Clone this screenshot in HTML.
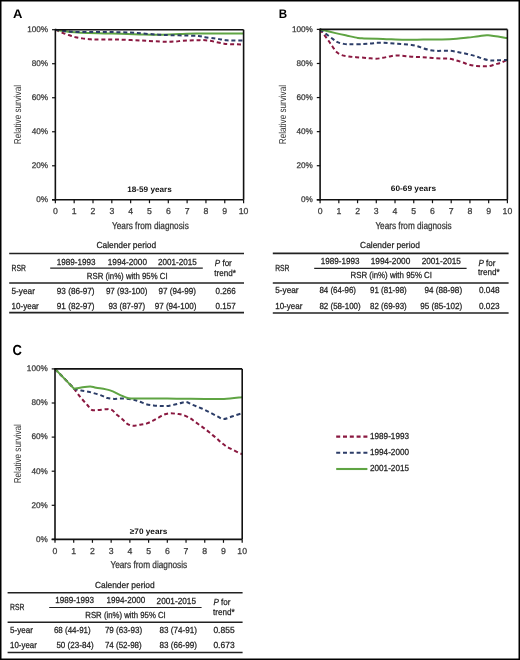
<!DOCTYPE html>
<html><head><meta charset="utf-8"><style>
html,body{margin:0;padding:0;background:#fff;}
body{width:520px;height:660px;overflow:hidden;}
#fig{position:relative;width:520px;height:660px;box-sizing:border-box;}
svg{position:absolute;left:0;top:0;}
text{text-rendering:geometricPrecision;}
text{font-family:"Liberation Sans", sans-serif;}
</style></head><body><div id="fig">
<svg width="520" height="660" viewBox="0 0 520 660" style="position:absolute;left:0;top:0;will-change:transform">
<path d="M55.35,29.70 C56.45,30.18 59.59,31.66 61.94,32.59 C64.29,33.53 67.18,34.55 69.47,35.31 C71.76,36.08 73.55,36.67 75.68,37.18 C77.81,37.69 79.98,38.03 82.27,38.38 C84.56,38.72 87.04,39.03 89.42,39.23 C91.81,39.42 91.90,39.51 96.58,39.57 C101.25,39.62 109.91,39.40 117.47,39.57 C125.03,39.74 134.04,40.22 141.94,40.59 C149.85,40.95 159.26,41.64 164.91,41.78 C170.56,41.92 172.82,41.61 175.83,41.44 C178.84,41.27 179.47,40.95 182.98,40.76 C186.50,40.56 193.59,40.36 196.91,40.25 C200.24,40.13 200.80,39.99 202.94,40.08 C205.07,40.16 207.36,40.39 209.71,40.76 C212.07,41.13 214.67,41.81 217.06,42.29 C219.44,42.77 221.86,43.34 224.02,43.65 C226.19,43.96 226.78,44.02 230.05,44.16 C233.31,44.30 241.34,44.44 243.60,44.50" fill="none" stroke="#8a1840" stroke-width="2" stroke-dasharray="4 2.8"/>
<path d="M55.35,29.70 C57.86,30.07 63.19,31.32 70.41,31.91 C77.63,32.51 90.18,32.96 98.65,33.27 C107.12,33.58 114.34,33.58 121.24,33.78 C128.14,33.98 133.79,34.29 140.06,34.46 C146.34,34.63 152.30,34.86 158.89,34.80 C165.48,34.75 173.32,34.35 179.59,34.12 C185.87,33.90 190.58,33.53 196.54,33.44 C202.50,33.36 207.52,33.58 215.36,33.61 C223.21,33.64 238.89,33.61 243.60,33.61" fill="none" stroke="#5fa443" stroke-width="2"/>
<path d="M55.35,29.70 C56.92,29.93 61.62,30.69 64.76,31.06 C67.90,31.43 69.47,31.74 74.17,31.91 C78.88,32.08 86.72,32.05 93.00,32.08 C99.28,32.11 105.55,32.00 111.82,32.08 C118.10,32.17 125.00,32.31 130.65,32.59 C136.30,32.88 141.00,33.44 145.71,33.78 C150.42,34.12 154.81,34.41 158.89,34.63 C162.97,34.86 165.79,35.00 170.18,35.14 C174.58,35.28 180.54,35.34 185.24,35.48 C189.95,35.63 195.13,35.71 198.42,35.99 C201.71,36.28 202.19,36.76 205.01,37.18 C207.83,37.61 212.70,38.18 215.36,38.55 C218.03,38.91 219.13,39.11 221.01,39.40 C222.89,39.68 224.46,40.05 226.66,40.25 C228.85,40.44 231.36,40.53 234.19,40.59 C237.01,40.64 242.03,40.59 243.60,40.59" fill="none" stroke="#2c3d68" stroke-width="2" stroke-dasharray="4 2.8"/>
<line x1="55.35" y1="29.70" x2="243.60" y2="29.70" stroke="#111" stroke-width="1.6"/>
<line x1="243.60" y1="29.70" x2="243.60" y2="199.80" stroke="#111" stroke-width="1.6"/>
<line x1="55.35" y1="28.90" x2="55.35" y2="200.60" stroke="#111" stroke-width="1.6"/>
<line x1="52.05" y1="199.80" x2="243.60" y2="199.80" stroke="#111" stroke-width="1.6"/>
<line x1="52.05" y1="199.80" x2="55.35" y2="199.80" stroke="#111" stroke-width="1.2"/>
<text x="48.15" y="202.10" font-size="8.2" text-anchor="end" fill="#3a3a3a" stroke="#3a3a3a" stroke-width="0.25">0%</text>
<line x1="52.05" y1="165.78" x2="55.35" y2="165.78" stroke="#111" stroke-width="1.2"/>
<text x="48.15" y="168.08" font-size="8.2" text-anchor="end" fill="#3a3a3a" stroke="#3a3a3a" stroke-width="0.25">20%</text>
<line x1="52.05" y1="131.76" x2="55.35" y2="131.76" stroke="#111" stroke-width="1.2"/>
<text x="48.15" y="134.06" font-size="8.2" text-anchor="end" fill="#3a3a3a" stroke="#3a3a3a" stroke-width="0.25">40%</text>
<line x1="52.05" y1="97.74" x2="55.35" y2="97.74" stroke="#111" stroke-width="1.2"/>
<text x="48.15" y="100.04" font-size="8.2" text-anchor="end" fill="#3a3a3a" stroke="#3a3a3a" stroke-width="0.25">60%</text>
<line x1="52.05" y1="63.72" x2="55.35" y2="63.72" stroke="#111" stroke-width="1.2"/>
<text x="48.15" y="66.02" font-size="8.2" text-anchor="end" fill="#3a3a3a" stroke="#3a3a3a" stroke-width="0.25">80%</text>
<line x1="52.05" y1="29.70" x2="55.35" y2="29.70" stroke="#111" stroke-width="1.2"/>
<text x="48.15" y="32.00" font-size="8.2" text-anchor="end" fill="#3a3a3a" stroke="#3a3a3a" stroke-width="0.25">100%</text>
<line x1="55.35" y1="199.80" x2="55.35" y2="203.20" stroke="#111" stroke-width="1.2"/>
<text x="55.35" y="214.20" font-size="8.7" text-anchor="middle" fill="#3a3a3a" stroke="#3a3a3a" stroke-width="0.25">0</text>
<line x1="74.17" y1="199.80" x2="74.17" y2="203.20" stroke="#111" stroke-width="1.2"/>
<text x="74.17" y="214.20" font-size="8.7" text-anchor="middle" fill="#3a3a3a" stroke="#3a3a3a" stroke-width="0.25">1</text>
<line x1="93.00" y1="199.80" x2="93.00" y2="203.20" stroke="#111" stroke-width="1.2"/>
<text x="93.00" y="214.20" font-size="8.7" text-anchor="middle" fill="#3a3a3a" stroke="#3a3a3a" stroke-width="0.25">2</text>
<line x1="111.82" y1="199.80" x2="111.82" y2="203.20" stroke="#111" stroke-width="1.2"/>
<text x="111.82" y="214.20" font-size="8.7" text-anchor="middle" fill="#3a3a3a" stroke="#3a3a3a" stroke-width="0.25">3</text>
<line x1="130.65" y1="199.80" x2="130.65" y2="203.20" stroke="#111" stroke-width="1.2"/>
<text x="130.65" y="214.20" font-size="8.7" text-anchor="middle" fill="#3a3a3a" stroke="#3a3a3a" stroke-width="0.25">4</text>
<line x1="149.47" y1="199.80" x2="149.47" y2="203.20" stroke="#111" stroke-width="1.2"/>
<text x="149.47" y="214.20" font-size="8.7" text-anchor="middle" fill="#3a3a3a" stroke="#3a3a3a" stroke-width="0.25">5</text>
<line x1="168.30" y1="199.80" x2="168.30" y2="203.20" stroke="#111" stroke-width="1.2"/>
<text x="168.30" y="214.20" font-size="8.7" text-anchor="middle" fill="#3a3a3a" stroke="#3a3a3a" stroke-width="0.25">6</text>
<line x1="187.12" y1="199.80" x2="187.12" y2="203.20" stroke="#111" stroke-width="1.2"/>
<text x="187.12" y="214.20" font-size="8.7" text-anchor="middle" fill="#3a3a3a" stroke="#3a3a3a" stroke-width="0.25">7</text>
<line x1="205.95" y1="199.80" x2="205.95" y2="203.20" stroke="#111" stroke-width="1.2"/>
<text x="205.95" y="214.20" font-size="8.7" text-anchor="middle" fill="#3a3a3a" stroke="#3a3a3a" stroke-width="0.25">8</text>
<line x1="224.77" y1="199.80" x2="224.77" y2="203.20" stroke="#111" stroke-width="1.2"/>
<text x="224.77" y="214.20" font-size="8.7" text-anchor="middle" fill="#3a3a3a" stroke="#3a3a3a" stroke-width="0.25">9</text>
<line x1="243.60" y1="199.80" x2="243.60" y2="203.20" stroke="#111" stroke-width="1.2"/>
<text x="243.60" y="214.20" font-size="8.7" text-anchor="middle" fill="#3a3a3a" stroke="#3a3a3a" stroke-width="0.25">10</text>
<text x="13.00" y="18.00" font-size="12.5" text-anchor="start" font-weight="bold" textLength="9.40" lengthAdjust="spacingAndGlyphs" fill="#000">A</text>
<text x="127.20" y="191.60" font-size="8" text-anchor="start" font-weight="bold" textLength="44.60" lengthAdjust="spacingAndGlyphs" fill="#111">18-59 years</text>
<text x="112.00" y="228.50" font-size="10" text-anchor="start" textLength="76.80" lengthAdjust="spacingAndGlyphs" fill="#333" stroke="#333" stroke-width="0.25">Years from diagnosis</text>
<text transform="translate(21.20,144.20) rotate(-90)" x="0" y="0" font-size="10" textLength="59.20" lengthAdjust="spacingAndGlyphs" fill="#333">Relative survival</text>
<path d="M320.10,29.40 C320.85,30.39 323.10,33.35 324.60,35.36 C326.09,37.38 327.75,39.60 329.09,41.50 C330.43,43.40 331.40,45.02 332.65,46.78 C333.90,48.54 335.05,50.67 336.58,52.06 C338.11,53.45 339.77,54.39 341.83,55.13 C343.89,55.87 346.57,56.15 348.94,56.49 C351.32,56.83 353.56,56.98 356.06,57.18 C358.56,57.37 361.81,57.52 363.93,57.69 C366.05,57.86 366.80,58.03 368.80,58.20 C370.80,58.37 373.61,58.77 375.92,58.71 C378.23,58.65 380.44,58.23 382.66,57.86 C384.87,57.49 387.03,56.89 389.21,56.49 C391.40,56.10 393.55,55.58 395.77,55.47 C397.99,55.36 400.26,55.64 402.51,55.81 C404.76,55.98 407.01,56.29 409.25,56.49 C411.50,56.69 413.78,56.89 416.00,57.00 C418.21,57.12 420.34,57.06 422.55,57.18 C424.77,57.29 427.02,57.52 429.30,57.69 C431.57,57.86 433.95,58.06 436.23,58.20 C438.50,58.34 440.75,58.45 442.97,58.54 C445.19,58.62 447.31,58.40 449.52,58.71 C451.74,59.02 454.11,59.82 456.27,60.41 C458.42,61.01 460.39,61.61 462.45,62.29 C464.51,62.97 466.51,63.91 468.63,64.50 C470.75,65.10 473.00,65.58 475.18,65.87 C477.37,66.15 479.52,66.15 481.74,66.21 C483.96,66.26 486.24,66.52 488.48,66.21 C490.73,65.89 493.13,64.93 495.23,64.33 C497.32,63.74 499.00,63.39 501.03,62.63 C503.06,61.86 506.34,60.21 507.40,59.73" fill="none" stroke="#8a1840" stroke-width="2" stroke-dasharray="4 2.8"/>
<path d="M320.10,29.40 C321.07,30.14 323.75,32.21 325.91,33.83 C328.06,35.45 331.09,37.72 333.02,39.11 C334.96,40.50 335.74,41.38 337.52,42.18 C339.30,42.98 341.51,43.54 343.70,43.88 C345.88,44.22 347.32,44.20 350.63,44.22 C353.94,44.25 360.21,44.17 363.55,44.05 C366.89,43.94 368.39,43.74 370.67,43.54 C372.95,43.34 375.04,42.98 377.23,42.86 C379.41,42.75 381.57,42.80 383.78,42.86 C386.00,42.92 388.21,43.06 390.52,43.20 C392.83,43.34 395.36,43.54 397.64,43.71 C399.92,43.88 401.89,44.03 404.20,44.22 C406.51,44.42 409.25,44.57 411.50,44.91 C413.75,45.25 415.62,45.67 417.68,46.27 C419.74,46.87 421.74,47.83 423.86,48.48 C425.99,49.14 428.20,49.79 430.42,50.19 C432.64,50.59 434.95,50.79 437.16,50.87 C439.38,50.96 441.44,50.70 443.72,50.70 C446.00,50.70 448.53,50.64 450.84,50.87 C453.15,51.10 455.42,51.67 457.58,52.06 C459.73,52.46 461.64,52.80 463.76,53.26 C465.88,53.71 468.19,54.25 470.31,54.79 C472.44,55.33 474.34,55.81 476.50,56.49 C478.65,57.18 481.02,58.23 483.24,58.88 C485.45,59.53 487.55,60.19 489.79,60.41 C492.04,60.64 493.79,60.30 496.72,60.24 C499.66,60.19 505.62,60.10 507.40,60.07" fill="none" stroke="#2c3d68" stroke-width="2" stroke-dasharray="4 2.8"/>
<path d="M320.10,29.40 C322.69,30.02 331.12,32.10 335.65,33.15 C340.17,34.20 343.57,34.91 347.26,35.70 C350.94,36.50 354.97,37.47 357.75,37.92 C360.53,38.37 359.71,38.26 363.93,38.43 C368.14,38.60 376.29,38.72 383.03,38.94 C389.78,39.17 397.70,39.68 404.38,39.79 C411.07,39.91 416.87,39.68 423.12,39.62 C429.36,39.57 436.26,39.60 441.85,39.45 C447.43,39.31 452.27,39.08 456.64,38.77 C461.01,38.46 464.38,38.01 468.07,37.58 C471.75,37.15 475.40,36.61 478.74,36.22 C482.08,35.82 483.33,34.88 488.11,35.19 C492.88,35.51 504.18,37.61 507.40,38.09" fill="none" stroke="#5fa443" stroke-width="2"/>
<line x1="320.10" y1="29.40" x2="507.40" y2="29.40" stroke="#111" stroke-width="1.6"/>
<line x1="507.40" y1="29.40" x2="507.40" y2="199.80" stroke="#111" stroke-width="1.6"/>
<line x1="320.10" y1="28.60" x2="320.10" y2="200.60" stroke="#111" stroke-width="1.6"/>
<line x1="316.80" y1="199.80" x2="507.40" y2="199.80" stroke="#111" stroke-width="1.6"/>
<line x1="316.80" y1="199.80" x2="320.10" y2="199.80" stroke="#111" stroke-width="1.2"/>
<text x="312.90" y="202.10" font-size="8.2" text-anchor="end" fill="#3a3a3a" stroke="#3a3a3a" stroke-width="0.25">0%</text>
<line x1="316.80" y1="165.72" x2="320.10" y2="165.72" stroke="#111" stroke-width="1.2"/>
<text x="312.90" y="168.02" font-size="8.2" text-anchor="end" fill="#3a3a3a" stroke="#3a3a3a" stroke-width="0.25">20%</text>
<line x1="316.80" y1="131.64" x2="320.10" y2="131.64" stroke="#111" stroke-width="1.2"/>
<text x="312.90" y="133.94" font-size="8.2" text-anchor="end" fill="#3a3a3a" stroke="#3a3a3a" stroke-width="0.25">40%</text>
<line x1="316.80" y1="97.56" x2="320.10" y2="97.56" stroke="#111" stroke-width="1.2"/>
<text x="312.90" y="99.86" font-size="8.2" text-anchor="end" fill="#3a3a3a" stroke="#3a3a3a" stroke-width="0.25">60%</text>
<line x1="316.80" y1="63.48" x2="320.10" y2="63.48" stroke="#111" stroke-width="1.2"/>
<text x="312.90" y="65.78" font-size="8.2" text-anchor="end" fill="#3a3a3a" stroke="#3a3a3a" stroke-width="0.25">80%</text>
<line x1="316.80" y1="29.40" x2="320.10" y2="29.40" stroke="#111" stroke-width="1.2"/>
<text x="312.90" y="31.70" font-size="8.2" text-anchor="end" fill="#3a3a3a" stroke="#3a3a3a" stroke-width="0.25">100%</text>
<line x1="320.10" y1="199.80" x2="320.10" y2="203.20" stroke="#111" stroke-width="1.2"/>
<text x="320.10" y="214.20" font-size="8.7" text-anchor="middle" fill="#3a3a3a" stroke="#3a3a3a" stroke-width="0.25">0</text>
<line x1="338.83" y1="199.80" x2="338.83" y2="203.20" stroke="#111" stroke-width="1.2"/>
<text x="338.83" y="214.20" font-size="8.7" text-anchor="middle" fill="#3a3a3a" stroke="#3a3a3a" stroke-width="0.25">1</text>
<line x1="357.56" y1="199.80" x2="357.56" y2="203.20" stroke="#111" stroke-width="1.2"/>
<text x="357.56" y="214.20" font-size="8.7" text-anchor="middle" fill="#3a3a3a" stroke="#3a3a3a" stroke-width="0.25">2</text>
<line x1="376.29" y1="199.80" x2="376.29" y2="203.20" stroke="#111" stroke-width="1.2"/>
<text x="376.29" y="214.20" font-size="8.7" text-anchor="middle" fill="#3a3a3a" stroke="#3a3a3a" stroke-width="0.25">3</text>
<line x1="395.02" y1="199.80" x2="395.02" y2="203.20" stroke="#111" stroke-width="1.2"/>
<text x="395.02" y="214.20" font-size="8.7" text-anchor="middle" fill="#3a3a3a" stroke="#3a3a3a" stroke-width="0.25">4</text>
<line x1="413.75" y1="199.80" x2="413.75" y2="203.20" stroke="#111" stroke-width="1.2"/>
<text x="413.75" y="214.20" font-size="8.7" text-anchor="middle" fill="#3a3a3a" stroke="#3a3a3a" stroke-width="0.25">5</text>
<line x1="432.48" y1="199.80" x2="432.48" y2="203.20" stroke="#111" stroke-width="1.2"/>
<text x="432.48" y="214.20" font-size="8.7" text-anchor="middle" fill="#3a3a3a" stroke="#3a3a3a" stroke-width="0.25">6</text>
<line x1="451.21" y1="199.80" x2="451.21" y2="203.20" stroke="#111" stroke-width="1.2"/>
<text x="451.21" y="214.20" font-size="8.7" text-anchor="middle" fill="#3a3a3a" stroke="#3a3a3a" stroke-width="0.25">7</text>
<line x1="469.94" y1="199.80" x2="469.94" y2="203.20" stroke="#111" stroke-width="1.2"/>
<text x="469.94" y="214.20" font-size="8.7" text-anchor="middle" fill="#3a3a3a" stroke="#3a3a3a" stroke-width="0.25">8</text>
<line x1="488.67" y1="199.80" x2="488.67" y2="203.20" stroke="#111" stroke-width="1.2"/>
<text x="488.67" y="214.20" font-size="8.7" text-anchor="middle" fill="#3a3a3a" stroke="#3a3a3a" stroke-width="0.25">9</text>
<line x1="507.40" y1="199.80" x2="507.40" y2="203.20" stroke="#111" stroke-width="1.2"/>
<text x="507.40" y="214.20" font-size="8.7" text-anchor="middle" fill="#3a3a3a" stroke="#3a3a3a" stroke-width="0.25">10</text>
<text x="278.80" y="17.80" font-size="12.5" text-anchor="start" font-weight="bold" textLength="8.40" lengthAdjust="spacingAndGlyphs" fill="#000">B</text>
<text x="390.80" y="191.30" font-size="8" text-anchor="start" font-weight="bold" textLength="45.20" lengthAdjust="spacingAndGlyphs" fill="#111">60-69 years</text>
<text x="375.40" y="228.50" font-size="10" text-anchor="start" textLength="76.30" lengthAdjust="spacingAndGlyphs" fill="#333" stroke="#333" stroke-width="0.25">Years from diagnosis</text>
<text transform="translate(286.20,144.20) rotate(-90)" x="0" y="0" font-size="10" textLength="59.20" lengthAdjust="spacingAndGlyphs" fill="#333">Relative survival</text>
<path d="M55.00,368.90 C58.21,372.22 71.07,385.52 74.28,388.85 C75.03,389.90 77.31,393.25 78.77,395.16 C80.24,397.06 81.61,398.60 83.08,400.27 C84.55,401.95 86.11,403.60 87.57,405.22 C89.04,406.84 90.13,409.19 91.88,409.99 C93.63,410.79 95.78,410.10 98.06,409.99 C100.33,409.88 103.33,409.37 105.54,409.31 C107.76,409.25 109.41,408.71 111.35,409.65 C113.28,410.59 115.31,413.34 117.15,414.93 C118.99,416.53 120.71,417.72 122.39,419.20 C124.08,420.68 125.54,422.69 127.26,423.80 C128.98,424.91 130.69,425.68 132.69,425.85 C134.68,426.02 136.96,425.19 139.24,424.82 C141.52,424.45 144.14,424.28 146.35,423.63 C148.57,422.98 150.57,421.87 152.53,420.90 C154.50,419.94 156.24,418.88 158.15,417.83 C160.05,416.78 161.95,415.36 163.95,414.59 C165.95,413.83 167.98,413.34 170.13,413.23 C172.28,413.12 174.75,413.63 176.87,413.91 C178.99,414.20 180.74,414.25 182.86,414.93 C184.98,415.62 187.60,416.90 189.60,418.00 C191.59,419.11 193.06,420.33 194.84,421.58 C196.62,422.83 198.46,424.20 200.27,425.51 C202.08,426.81 203.92,428.06 205.70,429.43 C207.47,430.79 209.16,432.24 210.94,433.69 C212.72,435.14 214.62,436.62 216.37,438.12 C218.11,439.63 219.70,441.31 221.42,442.73 C223.14,444.15 224.73,445.45 226.66,446.65 C228.60,447.84 230.87,448.81 233.03,449.89 C235.18,450.97 238.05,452.44 239.58,453.13 C241.11,453.81 241.76,453.84 242.20,453.98" fill="none" stroke="#8a1840" stroke-width="2" stroke-dasharray="4 2.8"/>
<path d="M55.00,368.90 C58.21,372.22 71.07,385.52 74.28,388.85 C75.44,389.13 78.87,390.07 81.21,390.55 C83.55,391.04 85.95,391.24 88.32,391.75 C90.69,392.26 93.13,392.94 95.44,393.62 C97.74,394.30 100.18,395.10 102.17,395.84 C104.17,396.58 105.45,397.54 107.42,398.06 C109.38,398.57 111.75,398.82 113.97,398.91 C116.18,398.99 118.55,398.60 120.71,398.57 C122.86,398.54 124.70,398.54 126.88,398.74 C129.07,398.94 131.69,399.28 133.81,399.76 C135.93,400.24 137.52,400.90 139.61,401.64 C141.70,402.37 144.04,403.57 146.35,404.19 C148.66,404.82 151.19,405.10 153.47,405.39 C155.74,405.67 157.84,405.78 160.02,405.90 C162.20,406.01 164.36,406.24 166.57,406.07 C168.79,405.90 171.10,405.33 173.31,404.88 C175.53,404.42 177.74,403.82 179.86,403.34 C181.98,402.86 183.98,401.75 186.04,401.98 C188.10,402.20 190.13,403.82 192.22,404.70 C194.31,405.59 196.49,406.41 198.58,407.26 C200.67,408.12 202.70,408.85 204.76,409.82 C206.82,410.79 208.91,412.01 210.94,413.06 C212.97,414.11 214.93,415.13 216.93,416.13 C218.92,417.12 220.92,418.77 222.92,419.03 C224.92,419.28 226.76,418.32 228.91,417.66 C231.06,417.01 233.62,415.84 235.84,415.11 C238.05,414.37 241.14,413.54 242.20,413.23" fill="none" stroke="#2c3d68" stroke-width="2" stroke-dasharray="4 2.8"/>
<path d="M55.00,368.90 C58.21,372.22 71.07,385.52 74.28,388.85 C75.44,388.62 78.56,387.88 81.21,387.48 C83.86,387.09 87.70,386.43 90.19,386.46 C92.69,386.49 92.88,387.00 96.18,387.65 C99.49,388.31 106.11,389.19 110.04,390.38 C113.97,391.58 116.68,393.51 119.77,394.82 C122.86,396.12 125.32,397.60 128.57,398.23 C131.81,398.85 134.34,398.54 139.24,398.57 C144.14,398.60 151.72,398.37 157.96,398.40 C164.20,398.42 168.88,398.65 176.68,398.74 C184.48,398.82 196.87,398.88 204.76,398.91 C212.65,398.94 217.80,399.19 224.04,398.91 C230.28,398.62 239.17,397.49 242.20,397.20" fill="none" stroke="#5fa443" stroke-width="2"/>
<line x1="55.00" y1="368.90" x2="242.20" y2="368.90" stroke="#111" stroke-width="1.6"/>
<line x1="242.20" y1="368.90" x2="242.20" y2="539.40" stroke="#111" stroke-width="1.6"/>
<line x1="55.00" y1="368.10" x2="55.00" y2="540.20" stroke="#111" stroke-width="1.6"/>
<line x1="51.70" y1="539.40" x2="242.20" y2="539.40" stroke="#111" stroke-width="1.6"/>
<line x1="51.70" y1="539.40" x2="55.00" y2="539.40" stroke="#111" stroke-width="1.2"/>
<text x="47.80" y="541.70" font-size="8.2" text-anchor="end" fill="#3a3a3a" stroke="#3a3a3a" stroke-width="0.25">0%</text>
<line x1="51.70" y1="505.30" x2="55.00" y2="505.30" stroke="#111" stroke-width="1.2"/>
<text x="47.80" y="507.60" font-size="8.2" text-anchor="end" fill="#3a3a3a" stroke="#3a3a3a" stroke-width="0.25">20%</text>
<line x1="51.70" y1="471.20" x2="55.00" y2="471.20" stroke="#111" stroke-width="1.2"/>
<text x="47.80" y="473.50" font-size="8.2" text-anchor="end" fill="#3a3a3a" stroke="#3a3a3a" stroke-width="0.25">40%</text>
<line x1="51.70" y1="437.10" x2="55.00" y2="437.10" stroke="#111" stroke-width="1.2"/>
<text x="47.80" y="439.40" font-size="8.2" text-anchor="end" fill="#3a3a3a" stroke="#3a3a3a" stroke-width="0.25">60%</text>
<line x1="51.70" y1="403.00" x2="55.00" y2="403.00" stroke="#111" stroke-width="1.2"/>
<text x="47.80" y="405.30" font-size="8.2" text-anchor="end" fill="#3a3a3a" stroke="#3a3a3a" stroke-width="0.25">80%</text>
<line x1="51.70" y1="368.90" x2="55.00" y2="368.90" stroke="#111" stroke-width="1.2"/>
<text x="47.80" y="371.20" font-size="8.2" text-anchor="end" fill="#3a3a3a" stroke="#3a3a3a" stroke-width="0.25">100%</text>
<line x1="55.00" y1="539.40" x2="55.00" y2="542.80" stroke="#111" stroke-width="1.2"/>
<text x="55.00" y="553.80" font-size="8.7" text-anchor="middle" fill="#3a3a3a" stroke="#3a3a3a" stroke-width="0.25">0</text>
<line x1="73.72" y1="539.40" x2="73.72" y2="542.80" stroke="#111" stroke-width="1.2"/>
<text x="73.72" y="553.80" font-size="8.7" text-anchor="middle" fill="#3a3a3a" stroke="#3a3a3a" stroke-width="0.25">1</text>
<line x1="92.44" y1="539.40" x2="92.44" y2="542.80" stroke="#111" stroke-width="1.2"/>
<text x="92.44" y="553.80" font-size="8.7" text-anchor="middle" fill="#3a3a3a" stroke="#3a3a3a" stroke-width="0.25">2</text>
<line x1="111.16" y1="539.40" x2="111.16" y2="542.80" stroke="#111" stroke-width="1.2"/>
<text x="111.16" y="553.80" font-size="8.7" text-anchor="middle" fill="#3a3a3a" stroke="#3a3a3a" stroke-width="0.25">3</text>
<line x1="129.88" y1="539.40" x2="129.88" y2="542.80" stroke="#111" stroke-width="1.2"/>
<text x="129.88" y="553.80" font-size="8.7" text-anchor="middle" fill="#3a3a3a" stroke="#3a3a3a" stroke-width="0.25">4</text>
<line x1="148.60" y1="539.40" x2="148.60" y2="542.80" stroke="#111" stroke-width="1.2"/>
<text x="148.60" y="553.80" font-size="8.7" text-anchor="middle" fill="#3a3a3a" stroke="#3a3a3a" stroke-width="0.25">5</text>
<line x1="167.32" y1="539.40" x2="167.32" y2="542.80" stroke="#111" stroke-width="1.2"/>
<text x="167.32" y="553.80" font-size="8.7" text-anchor="middle" fill="#3a3a3a" stroke="#3a3a3a" stroke-width="0.25">6</text>
<line x1="186.04" y1="539.40" x2="186.04" y2="542.80" stroke="#111" stroke-width="1.2"/>
<text x="186.04" y="553.80" font-size="8.7" text-anchor="middle" fill="#3a3a3a" stroke="#3a3a3a" stroke-width="0.25">7</text>
<line x1="204.76" y1="539.40" x2="204.76" y2="542.80" stroke="#111" stroke-width="1.2"/>
<text x="204.76" y="553.80" font-size="8.7" text-anchor="middle" fill="#3a3a3a" stroke="#3a3a3a" stroke-width="0.25">8</text>
<line x1="223.48" y1="539.40" x2="223.48" y2="542.80" stroke="#111" stroke-width="1.2"/>
<text x="223.48" y="553.80" font-size="8.7" text-anchor="middle" fill="#3a3a3a" stroke="#3a3a3a" stroke-width="0.25">9</text>
<line x1="242.20" y1="539.40" x2="242.20" y2="542.80" stroke="#111" stroke-width="1.2"/>
<text x="242.20" y="553.80" font-size="8.7" text-anchor="middle" fill="#3a3a3a" stroke="#3a3a3a" stroke-width="0.25">10</text>
<text x="12.60" y="355.40" font-size="14.6" text-anchor="start" font-weight="bold" textLength="9.40" lengthAdjust="spacingAndGlyphs" fill="#000">C</text>
<text x="129.80" y="534.10" font-size="8" text-anchor="start" font-weight="bold" textLength="37.50" lengthAdjust="spacingAndGlyphs" fill="#111">≥70 years</text>
<text x="110.40" y="567.70" font-size="10" text-anchor="start" textLength="76.80" lengthAdjust="spacingAndGlyphs" fill="#333" stroke="#333" stroke-width="0.25">Years from diagnosis</text>
<text transform="translate(21.00,483.30) rotate(-90)" x="0" y="0" font-size="10" textLength="59.20" lengthAdjust="spacingAndGlyphs" fill="#333">Relative survival</text>
<line x1="9.20" y1="253.50" x2="244.00" y2="253.50" stroke="#222" stroke-width="1.6"/>
<line x1="50.20" y1="268.20" x2="202.80" y2="268.20" stroke="#222" stroke-width="1.2"/>
<line x1="9.20" y1="283.00" x2="244.00" y2="283.00" stroke="#222" stroke-width="1.6"/>
<line x1="9.20" y1="312.60" x2="244.00" y2="312.60" stroke="#222" stroke-width="1.6"/>
<text x="96.40" y="248.20" font-size="8.8" text-anchor="start" textLength="59.80" lengthAdjust="spacingAndGlyphs" fill="#222" stroke="#222" stroke-width="0.25">Calender period</text>
<text x="11.50" y="270.70" font-size="8.8" text-anchor="start" textLength="14.30" lengthAdjust="spacingAndGlyphs" fill="#222" stroke="#222" stroke-width="0.25">RSR</text>
<text x="56.80" y="264.60" font-size="8.8" text-anchor="start" textLength="38.80" lengthAdjust="spacingAndGlyphs" fill="#222" stroke="#222" stroke-width="0.25">1989-1993</text>
<text x="107.80" y="264.60" font-size="8.8" text-anchor="start" textLength="39.20" lengthAdjust="spacingAndGlyphs" fill="#222" stroke="#222" stroke-width="0.25">1994-2000</text>
<text x="158.00" y="264.60" font-size="8.8" text-anchor="start" textLength="38.80" lengthAdjust="spacingAndGlyphs" fill="#222" stroke="#222" stroke-width="0.25">2001-2015</text>
<text x="86.80" y="278.50" font-size="8.8" text-anchor="start" textLength="80.80" lengthAdjust="spacingAndGlyphs" fill="#222" stroke="#222" stroke-width="0.25">RSR (in%) with 95% CI</text>
<text x="214.80" y="265.80" font-size="8.8" fill="#222" stroke="#222" stroke-width="0.25" textLength="17.00" lengthAdjust="spacingAndGlyphs"><tspan font-style="italic">P</tspan> for</text>
<text x="214.30" y="275.60" font-size="8.8" text-anchor="start" textLength="21.50" lengthAdjust="spacingAndGlyphs" fill="#222" stroke="#222" stroke-width="0.25">trend*</text>
<text x="11.50" y="293.80" font-size="8.8" text-anchor="start" textLength="23.40" lengthAdjust="spacingAndGlyphs" fill="#222" stroke="#222" stroke-width="0.25">5-year</text>
<text x="56.80" y="293.80" font-size="8.8" text-anchor="start" textLength="37.80" lengthAdjust="spacingAndGlyphs" fill="#222" stroke="#222" stroke-width="0.25">93 (86-97)</text>
<text x="105.90" y="293.80" font-size="8.8" text-anchor="start" textLength="41.60" lengthAdjust="spacingAndGlyphs" fill="#222" stroke="#222" stroke-width="0.25">97 (93-100)</text>
<text x="158.60" y="293.80" font-size="8.8" text-anchor="start" textLength="37.40" lengthAdjust="spacingAndGlyphs" fill="#222" stroke="#222" stroke-width="0.25">97 (94-99)</text>
<text x="215.60" y="293.80" font-size="8.8" text-anchor="start" textLength="20.20" lengthAdjust="spacingAndGlyphs" fill="#222" stroke="#222" stroke-width="0.25">0.266</text>
<text x="11.50" y="308.60" font-size="8.8" text-anchor="start" textLength="27.30" lengthAdjust="spacingAndGlyphs" fill="#222" stroke="#222" stroke-width="0.25">10-year</text>
<text x="56.80" y="308.60" font-size="8.8" text-anchor="start" textLength="37.80" lengthAdjust="spacingAndGlyphs" fill="#222" stroke="#222" stroke-width="0.25">91 (82-97)</text>
<text x="108.40" y="308.60" font-size="8.8" text-anchor="start" textLength="36.80" lengthAdjust="spacingAndGlyphs" fill="#222" stroke="#222" stroke-width="0.25">93 (87-97)</text>
<text x="154.70" y="308.60" font-size="8.8" text-anchor="start" textLength="41.70" lengthAdjust="spacingAndGlyphs" fill="#222" stroke="#222" stroke-width="0.25">97 (94-100)</text>
<text x="215.60" y="308.60" font-size="8.8" text-anchor="start" textLength="20.20" lengthAdjust="spacingAndGlyphs" fill="#222" stroke="#222" stroke-width="0.25">0.157</text>
<line x1="272.80" y1="253.40" x2="508.60" y2="253.40" stroke="#222" stroke-width="1.6"/>
<line x1="314.20" y1="268.30" x2="466.60" y2="268.30" stroke="#222" stroke-width="1.2"/>
<line x1="272.80" y1="283.00" x2="508.60" y2="283.00" stroke="#222" stroke-width="1.6"/>
<line x1="272.80" y1="313.00" x2="508.60" y2="313.00" stroke="#222" stroke-width="1.6"/>
<text x="360.10" y="248.00" font-size="8.8" text-anchor="start" textLength="59.80" lengthAdjust="spacingAndGlyphs" fill="#222" stroke="#222" stroke-width="0.25">Calender period</text>
<text x="275.20" y="270.60" font-size="8.8" text-anchor="start" textLength="14.30" lengthAdjust="spacingAndGlyphs" fill="#222" stroke="#222" stroke-width="0.25">RSR</text>
<text x="320.80" y="264.40" font-size="8.8" text-anchor="start" textLength="38.80" lengthAdjust="spacingAndGlyphs" fill="#222" stroke="#222" stroke-width="0.25">1989-1993</text>
<text x="370.70" y="264.40" font-size="8.8" text-anchor="start" textLength="39.60" lengthAdjust="spacingAndGlyphs" fill="#222" stroke="#222" stroke-width="0.25">1994-2000</text>
<text x="421.70" y="264.40" font-size="8.8" text-anchor="start" textLength="39.20" lengthAdjust="spacingAndGlyphs" fill="#222" stroke="#222" stroke-width="0.25">2001-2015</text>
<text x="350.50" y="277.90" font-size="8.8" text-anchor="start" textLength="81.50" lengthAdjust="spacingAndGlyphs" fill="#222" stroke="#222" stroke-width="0.25">RSR (in%) with 95% CI</text>
<text x="478.40" y="265.80" font-size="8.8" fill="#222" stroke="#222" stroke-width="0.25" textLength="17.00" lengthAdjust="spacingAndGlyphs"><tspan font-style="italic">P</tspan> for</text>
<text x="478.00" y="275.40" font-size="8.8" text-anchor="start" textLength="21.60" lengthAdjust="spacingAndGlyphs" fill="#222" stroke="#222" stroke-width="0.25">trend*</text>
<text x="275.20" y="293.20" font-size="8.8" text-anchor="start" textLength="23.40" lengthAdjust="spacingAndGlyphs" fill="#222" stroke="#222" stroke-width="0.25">5-year</text>
<text x="319.40" y="293.20" font-size="8.8" text-anchor="start" textLength="36.60" lengthAdjust="spacingAndGlyphs" fill="#222" stroke="#222" stroke-width="0.25">84 (64-96)</text>
<text x="370.10" y="293.20" font-size="8.8" text-anchor="start" textLength="36.60" lengthAdjust="spacingAndGlyphs" fill="#222" stroke="#222" stroke-width="0.25">91 (81-98)</text>
<text x="424.50" y="293.20" font-size="8.8" text-anchor="start" textLength="37.60" lengthAdjust="spacingAndGlyphs" fill="#222" stroke="#222" stroke-width="0.25">94 (88-98)</text>
<text x="478.90" y="293.20" font-size="8.8" text-anchor="start" textLength="20.70" lengthAdjust="spacingAndGlyphs" fill="#222" stroke="#222" stroke-width="0.25">0.048</text>
<text x="275.20" y="308.50" font-size="8.8" text-anchor="start" textLength="27.20" lengthAdjust="spacingAndGlyphs" fill="#222" stroke="#222" stroke-width="0.25">10-year</text>
<text x="319.40" y="308.50" font-size="8.8" text-anchor="start" textLength="41.30" lengthAdjust="spacingAndGlyphs" fill="#222" stroke="#222" stroke-width="0.25">82 (58-100)</text>
<text x="370.10" y="308.50" font-size="8.8" text-anchor="start" textLength="36.60" lengthAdjust="spacingAndGlyphs" fill="#222" stroke="#222" stroke-width="0.25">82 (69-93)</text>
<text x="420.30" y="308.50" font-size="8.8" text-anchor="start" textLength="41.80" lengthAdjust="spacingAndGlyphs" fill="#222" stroke="#222" stroke-width="0.25">95 (85-102)</text>
<text x="478.90" y="308.50" font-size="8.8" text-anchor="start" textLength="20.70" lengthAdjust="spacingAndGlyphs" fill="#222" stroke="#222" stroke-width="0.25">0.023</text>
<line x1="7.60" y1="592.80" x2="242.60" y2="592.80" stroke="#222" stroke-width="1.6"/>
<line x1="49.20" y1="607.50" x2="201.60" y2="607.50" stroke="#222" stroke-width="1.2"/>
<line x1="7.60" y1="622.30" x2="242.60" y2="622.30" stroke="#222" stroke-width="1.6"/>
<line x1="7.60" y1="652.50" x2="242.60" y2="652.50" stroke="#222" stroke-width="1.6"/>
<text x="94.90" y="587.60" font-size="8.8" text-anchor="start" textLength="59.80" lengthAdjust="spacingAndGlyphs" fill="#222" stroke="#222" stroke-width="0.25">Calender period</text>
<text x="10.00" y="609.80" font-size="8.8" text-anchor="start" textLength="14.30" lengthAdjust="spacingAndGlyphs" fill="#222" stroke="#222" stroke-width="0.25">RSR</text>
<text x="55.20" y="603.40" font-size="8.8" text-anchor="start" textLength="38.80" lengthAdjust="spacingAndGlyphs" fill="#222" stroke="#222" stroke-width="0.25">1989-1993</text>
<text x="106.40" y="603.40" font-size="8.8" text-anchor="start" textLength="38.80" lengthAdjust="spacingAndGlyphs" fill="#222" stroke="#222" stroke-width="0.25">1994-2000</text>
<text x="156.60" y="603.60" font-size="8.8" text-anchor="start" textLength="39.40" lengthAdjust="spacingAndGlyphs" fill="#222" stroke="#222" stroke-width="0.25">2001-2015</text>
<text x="85.30" y="617.70" font-size="8.8" text-anchor="start" textLength="80.50" lengthAdjust="spacingAndGlyphs" fill="#222" stroke="#222" stroke-width="0.25">RSR (in%) with 95% CI</text>
<text x="213.40" y="605.20" font-size="8.8" fill="#222" stroke="#222" stroke-width="0.25" textLength="17.00" lengthAdjust="spacingAndGlyphs"><tspan font-style="italic">P</tspan> for</text>
<text x="213.00" y="614.80" font-size="8.8" text-anchor="start" textLength="21.60" lengthAdjust="spacingAndGlyphs" fill="#222" stroke="#222" stroke-width="0.25">trend*</text>
<text x="10.00" y="632.80" font-size="8.8" text-anchor="start" textLength="23.00" lengthAdjust="spacingAndGlyphs" fill="#222" stroke="#222" stroke-width="0.25">5-year</text>
<text x="53.90" y="632.80" font-size="8.8" text-anchor="start" textLength="36.80" lengthAdjust="spacingAndGlyphs" fill="#222" stroke="#222" stroke-width="0.25">68 (44-91)</text>
<text x="104.90" y="632.80" font-size="8.8" text-anchor="start" textLength="37.20" lengthAdjust="spacingAndGlyphs" fill="#222" stroke="#222" stroke-width="0.25">79 (63-93)</text>
<text x="159.50" y="632.80" font-size="8.8" text-anchor="start" textLength="37.40" lengthAdjust="spacingAndGlyphs" fill="#222" stroke="#222" stroke-width="0.25">83 (74-91)</text>
<text x="213.40" y="632.80" font-size="8.8" text-anchor="start" textLength="21.20" lengthAdjust="spacingAndGlyphs" fill="#222" stroke="#222" stroke-width="0.25">0.855</text>
<text x="10.00" y="648.20" font-size="8.8" text-anchor="start" textLength="26.80" lengthAdjust="spacingAndGlyphs" fill="#222" stroke="#222" stroke-width="0.25">10-year</text>
<text x="56.40" y="648.20" font-size="8.8" text-anchor="start" textLength="37.20" lengthAdjust="spacingAndGlyphs" fill="#222" stroke="#222" stroke-width="0.25">50 (23-84)</text>
<text x="104.90" y="648.20" font-size="8.8" text-anchor="start" textLength="36.80" lengthAdjust="spacingAndGlyphs" fill="#222" stroke="#222" stroke-width="0.25">74 (52-98)</text>
<text x="159.50" y="648.20" font-size="8.8" text-anchor="start" textLength="37.40" lengthAdjust="spacingAndGlyphs" fill="#222" stroke="#222" stroke-width="0.25">83 (66-99)</text>
<text x="213.40" y="648.20" font-size="8.8" text-anchor="start" textLength="21.20" lengthAdjust="spacingAndGlyphs" fill="#222" stroke="#222" stroke-width="0.25">0.673</text>
<line x1="336.2" y1="436.6" x2="367.4" y2="436.6" stroke="#8a1840" stroke-width="2.1" stroke-dasharray="4 2.8"/>
<text x="370.00" y="439.00" font-size="8.8" text-anchor="start" textLength="39.00" lengthAdjust="spacingAndGlyphs" fill="#222" stroke="#222" stroke-width="0.25">1989-1993</text>
<line x1="336.2" y1="452.8" x2="367.4" y2="452.8" stroke="#2c3d68" stroke-width="2.1" stroke-dasharray="4 2.8"/>
<text x="370.00" y="455.20" font-size="8.8" text-anchor="start" textLength="39.00" lengthAdjust="spacingAndGlyphs" fill="#222" stroke="#222" stroke-width="0.25">1994-2000</text>
<line x1="336.2" y1="469.0" x2="367.4" y2="469.0" stroke="#5fa443" stroke-width="2.1"/>
<text x="370.00" y="471.40" font-size="8.8" text-anchor="start" textLength="39.00" lengthAdjust="spacingAndGlyphs" fill="#222" stroke="#222" stroke-width="0.25">2001-2015</text>
<rect x="0.75" y="0.75" width="518.5" height="658.5" fill="none" stroke="#000" stroke-width="1.5"/>
</svg></div></body></html>
